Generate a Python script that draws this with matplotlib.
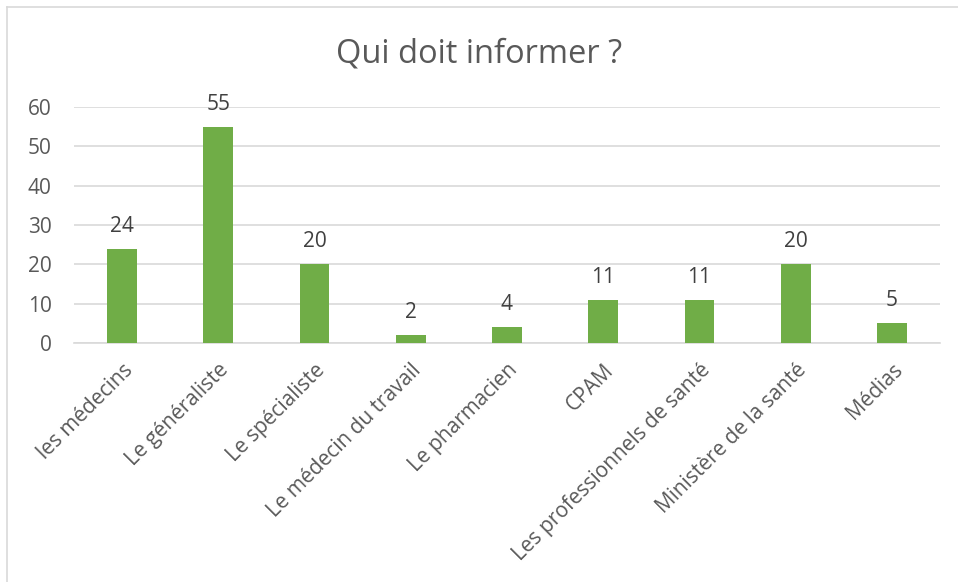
import matplotlib
matplotlib.use("Agg")
import matplotlib.pyplot as plt
from matplotlib.lines import Line2D

categories = ["les médecins", "Le généraliste", "Le spécialiste", "Le médecin du travail",
              "Le pharmacien", "CPAM", "Les professionnels de santé",
              "Ministère de la santé", "Médias"]
values = [24, 55, 20, 2, 4, 11, 11, 20, 5]
yticks = [0, 10, 20, 30, 40, 50, 60]
title = "Qui doit informer ?"

plt.rcParams['font.family'] = ['Open Sans', 'DejaVu Sans']
txt = '#595959'
fs = 15

fig = plt.figure(figsize=(9.58, 5.82), dpi=100)
ax = fig.add_axes([74/958, 1-343/582, (940-74)/958, (343-107)/582])

x = list(range(len(categories)))
ax.bar(x, values, width=0.31, color='#70AD47', zorder=3)
for xi, v in zip(x, values):
    ax.annotate(str(v), (xi, v), xytext=(0, 12), textcoords='offset pixels',
                ha='center', va='bottom', fontsize=fs, color='#404040')

ax.set_xlim(-0.5, len(categories) - 0.5)
ax.set_ylim(0, 60)
ax.set_yticks(yticks)
ax.set_yticklabels([str(t) for t in yticks], fontsize=fs, color=txt)
ax.yaxis.grid(True, color='#D9D9D9', linewidth=1.2, zorder=0)
ax.set_xticks(x)
ax.set_xticklabels(categories, rotation=45, ha='right', va='top', rotation_mode='anchor',
                   fontsize=fs, color=txt)
for s in ['top', 'right', 'left']:
    ax.spines[s].set_visible(False)
ax.spines['bottom'].set_color('#D9D9D9')
ax.spines['bottom'].set_linewidth(1.2)
ax.tick_params(axis='both', length=0)
ax.tick_params(axis='y', pad=16)
ax.tick_params(axis='x', pad=12)

fig.text(0.5, 1-54/582, title, ha='center', va='center', fontsize=23.5, color=txt)

# outer chart border
fig.add_artist(Line2D([7/958, 7/958], [0, 1-7/582], transform=fig.transFigure, color='#D9D9D9', lw=1.2))
fig.add_artist(Line2D([7/958, 1], [1-7/582, 1-7/582], transform=fig.transFigure, color='#D9D9D9', lw=1.2))

fig.savefig("out.png", dpi=100)
